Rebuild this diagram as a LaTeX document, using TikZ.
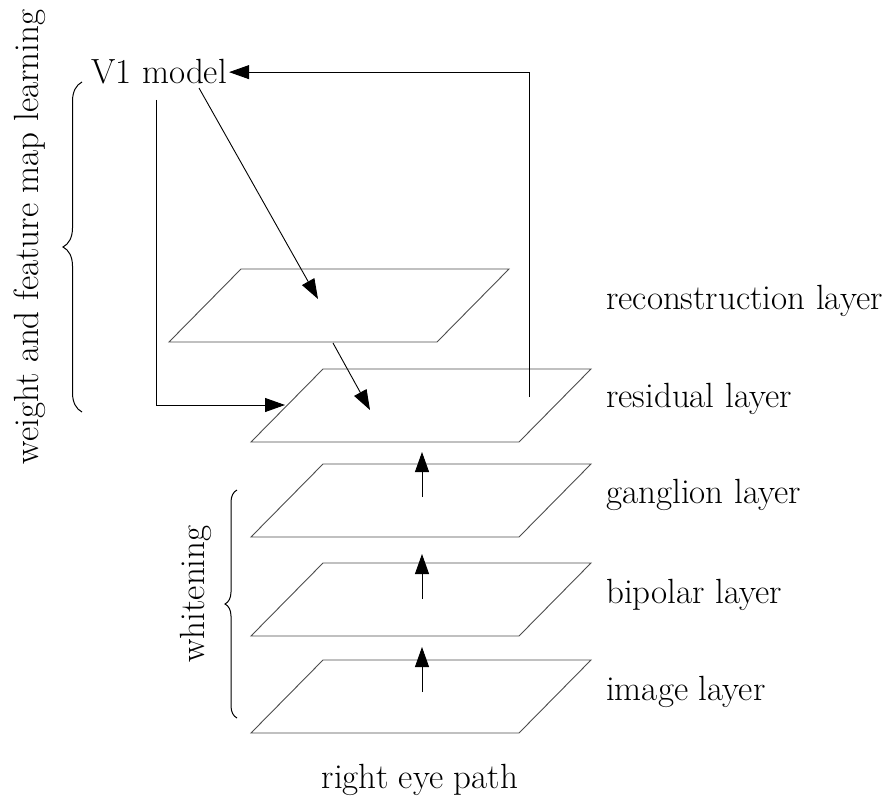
\documentclass[tikz,border=0pt]{standalone}
\usetikzlibrary{arrows.meta,decorations.pathreplacing}
\begin{document}
\begin{tikzpicture}[x=1pt,y=-1pt,
  font=\fontsize{35}{42}\selectfont,
  plane/.style={draw=black!70,line width=0.9pt},
  conn/.style={draw=black,line width=0.9pt,-{Triangle[length=20pt,width=14pt]}},
  lbl/.style={anchor=base west,inner sep=0pt},
  bracestyle/.style={draw=black,line width=1pt,decorate}]
\useasboundingbox (0,0) rectangle (884,800);

% stacked layer planes: bottom-left corner, width 268, skew 72, depth 73
\foreach \n/\x/\y in {recon/169/342,resid/251/442,gang/251/537,bip/251/636,img/251/733}{
  \draw[plane] (\x,\y) -- ++(268,0) -- ++(72,-73) -- ++(-268,0) -- cycle;
}

% layer names
\node[lbl] (lrecon) at (606,309) {reconstruction layer};
\node[lbl] (lresid) at (606,407) {residual layer};
\node[lbl] (lgang)  at (606,503) {ganglion layer};
\node[lbl] (lbip)   at (606,603) {bipolar layer};
\node[lbl] (limg)   at (606,700) {image layer};
\node[anchor=base,inner sep=0pt] (path) at (420,788) {right eye path};

% model node
\node[anchor=base west,inner sep=2pt] (v1) at (89,84) {V1 model};

% connector end points
\coordinate (fbfrom) at (529,397);
\coordinate (v1down) at (156,100);
\coordinate (residin) at (285,405);
\coordinate (v1diag) at (199,88);
\coordinate (reconin) at (318,299);
\coordinate (reconout) at (333,343);
\coordinate (residpt) at (370,410);
\coordinate (gangfrom) at (422,497);
\coordinate (gangto) at (422,452);
\coordinate (bipfrom) at (422,599);
\coordinate (bipto) at (422,554);
\coordinate (imgfrom) at (422,692);
\coordinate (imgto) at (422,647);

% connectors
\draw[conn] (fbfrom) |- (v1.east);
\draw[conn] (v1down) |- (residin);
\draw[conn] (v1diag) -- (reconin);
\draw[conn] (reconout) -- (residpt);
\draw[conn] (gangfrom) -- (gangto);
\draw[conn] (bipfrom) -- (bipto);
\draw[conn] (imgfrom) -- (imgto);

% braces with rotated captions
\coordinate (b1lo) at (82,412);
\coordinate (b1hi) at (82,82);
\draw[bracestyle,decoration={brace,amplitude=19pt}] (b1lo) -- (b1hi);
\node[rotate=90,anchor=base,inner sep=0pt] (learn) at (38,237) {weight and feature map learning};

\coordinate (b2lo) at (237,718);
\coordinate (b2hi) at (237,490);
\draw[bracestyle,decoration={brace,amplitude=12pt}] (b2lo) -- (b2hi);
\node[rotate=90,anchor=base,inner sep=0pt] (white) at (204,594) {whitening};
\end{tikzpicture}
\end{document}
